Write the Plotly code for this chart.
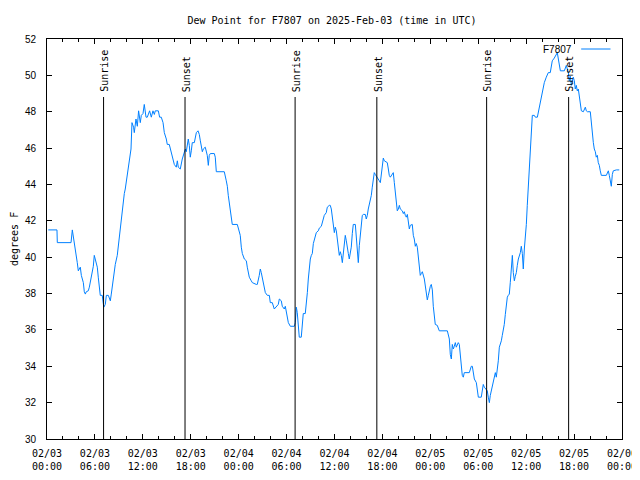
import pandas as pd
import plotly.graph_objects as go

# ---- data ----
start = pd.Timestamp("2025-02-03 00:00")
end = pd.Timestamp("2025-02-06 00:00")

# elapsed hours since 2025-02-03 00:00 UTC
hours = [
    0.16, 1.25, 1.29, 3.01, 3.17, 3.29, 3.54, 3.79, 3.92, 4.17, 4.30, 4.55, 4.67, 4.80, 4.92,
    5.17, 5.30, 5.55, 5.80, 5.92, 6.05, 6.30, 6.42, 6.55, 6.67, 6.92, 7.05, 7.11, 7.30, 7.43,
    7.68, 7.93, 8.05, 8.18, 8.30, 8.55, 8.80, 8.93, 9.18, 9.43, 9.68, 9.80, 10.02, 10.34, 10.52,
    10.64, 10.84, 10.93, 11.14, 11.31, 11.47, 11.68, 11.81, 12.02, 12.18, 12.40, 12.56, 12.85,
    13.06, 13.27, 13.44, 13.56, 13.94, 14.10, 14.31, 14.53, 14.69, 14.94, 15.06, 15.31, 15.44,
    15.69, 15.82, 15.94, 16.19, 16.32, 16.44, 16.69, 16.94, 17.19, 17.32, 17.44, 17.57, 17.69,
    17.82, 17.94, 18.07, 18.19, 18.45, 18.57, 18.70, 18.91, 19.07, 19.20, 19.45, 19.57, 19.82,
    20.07, 20.20, 20.32, 20.45, 20.95, 21.07, 21.20, 22.20, 22.45, 22.58, 22.70, 22.83, 22.95,
    23.08, 23.20, 23.83, 23.95, 24.20, 24.33, 24.46, 24.71, 24.96, 25.08, 25.33, 25.58, 25.71,
    26.21, 26.33, 26.58, 26.71, 26.83, 26.96, 27.09, 27.34, 27.59, 27.84, 27.96, 28.21, 28.46,
    28.71, 28.96, 29.09, 29.34, 29.46, 29.71, 29.84, 29.97, 30.09, 30.22, 30.47, 30.97, 31.09,
    31.22, 31.34, 31.47, 31.59, 31.84, 31.97, 32.09, 32.34, 32.47, 32.60, 32.72, 32.85, 32.97,
    33.10, 33.22, 33.35, 33.47, 33.60, 33.72, 33.97, 34.10, 34.35, 34.47, 34.60, 34.72, 34.97,
    35.10, 35.35, 35.47, 35.60, 35.73, 35.85, 35.98, 36.10, 36.23, 36.35, 36.48, 36.60, 36.73,
    36.85, 36.98, 37.23, 37.35, 37.48, 37.60, 37.73, 37.85, 38.10, 38.23, 38.35, 38.61, 38.73,
    38.86, 38.98, 39.11, 39.23, 39.36, 39.48, 39.61, 39.86, 39.98, 40.11, 40.23, 40.36, 40.48,
    40.61, 40.73, 40.86, 40.98, 41.11, 41.36, 41.61, 41.74, 41.86, 41.99, 42.11, 42.24, 42.61,
    42.74, 42.86, 42.99, 43.11, 43.36, 43.49, 43.61, 43.74, 43.86, 43.99, 44.12, 44.24, 44.49,
    44.62, 44.74, 44.87, 44.99, 45.12, 45.24, 45.37, 45.49, 45.74, 45.87, 45.99, 46.12, 46.24,
    46.37, 46.49, 46.62, 46.74, 46.87, 47.00, 47.25, 47.37, 47.50, 47.62, 47.75, 47.87, 48.00,
    48.12, 48.25, 48.37, 48.50, 48.62, 48.87, 49.00, 49.12, 50.13, 50.25, 50.38, 50.50, 50.63,
    50.75, 50.88, 51.00, 51.13, 51.25, 51.38, 51.50, 51.63, 51.75, 51.88, 52.00, 52.13, 52.25,
    52.88, 53.01, 53.13, 53.26, 53.38, 53.51, 53.76, 53.88, 54.01, 54.38, 54.51, 54.63, 54.76,
    55.01, 55.13, 55.26, 55.39, 55.51, 55.64, 55.76, 55.89, 56.01, 56.14, 56.26, 56.39, 56.51,
    56.64, 56.76, 56.89, 57.01, 57.14, 57.26, 57.39, 57.51, 57.64, 57.76, 57.89, 58.01, 58.14,
    58.27, 58.39, 58.52, 58.64, 58.77, 58.89, 59.02, 59.27, 59.39, 59.52, 59.64, 59.77, 59.89,
    60.02, 60.14, 60.27, 60.39, 60.52, 60.64, 60.77, 61.02, 61.15, 61.40, 61.52, 61.65, 61.77,
    62.02, 62.15, 62.27, 62.52, 62.77, 63.02, 63.15, 63.27, 63.52, 63.77, 63.90, 64.03, 64.15,
    64.28, 64.78, 64.90, 65.03, 65.15, 65.28, 65.40, 65.53, 65.65, 65.78, 65.90, 66.03, 66.15,
    66.28, 66.40, 66.53, 66.65, 66.78, 66.91, 67.16, 67.28, 67.41, 67.53, 67.66, 68.03, 68.16,
    68.28, 68.41, 68.53, 68.66, 68.78, 68.91, 69.03, 69.16, 69.28, 69.41, 70.04, 70.16, 70.29,
    70.41, 70.54, 70.66, 70.79, 70.91, 71.29, 71.66,
]

# dew point, degrees F
dewpoint = [
    41.5, 41.5, 40.8, 40.8, 41.5, 41.2, 40.35, 39.7, 39.25, 39.45, 39.0, 38.6, 38.1, 37.97, 38.1,
    38.15, 38.35, 38.9, 39.5, 40.1, 39.9, 39.45, 38.9, 38.25, 37.9, 37.9, 37.4, 37.25, 37.4, 37.9,
    37.9, 37.6, 37.97, 38.4, 38.95, 39.6, 40.1, 40.6, 41.5, 42.75, 43.5, 43.75, 44.5, 45.3, 45.95,
    47.4, 47.15, 46.85, 47.6, 47.2, 48.05, 47.4, 47.8, 47.9, 48.4, 47.7, 47.7, 48.05,
    47.7, 48.05, 47.85, 48.05, 48.05, 47.7, 47.7, 47.4, 46.85, 46.5, 46.2, 46.2, 45.95,
    45.6, 45.4, 45.1, 44.95, 45.3, 44.95, 44.85, 45.4, 45.85, 45.95, 45.8, 46.2, 46.5,
    46.15, 45.5, 45.85, 46.3, 46.3, 46.6, 46.85, 46.95, 46.75, 46.4, 45.8, 45.95, 46.05,
    45.6, 45.05, 45.6, 45.7, 45.7, 45.5, 44.7, 44.7, 44.2, 43.9, 43.4, 43.0, 42.55,
    42.1, 41.8, 41.8, 41.55, 41.2, 40.55, 40.2, 39.9, 39.8, 39.45, 38.9, 38.7, 38.6,
    38.5, 38.5, 39.0, 39.35, 39.15, 38.9, 38.5, 38.05, 37.9, 37.9, 37.5, 37.5, 37.15,
    37.25, 37.4, 37.7, 37.6, 37.3, 37.15, 37.3, 37.05, 36.8, 36.4, 36.2, 36.2, 36.4,
    37.25, 36.95, 35.95, 35.6, 35.6, 36.3, 36.9, 36.9, 37.4, 38.05, 38.8, 39.45, 39.9,
    40.1, 40.2, 40.75, 41.0, 41.2, 41.35, 41.45, 41.6, 41.7, 41.9, 42.15, 42.3, 42.45,
    42.75, 42.85, 42.85, 42.65, 42.2, 41.65, 41.35, 41.65, 41.45, 41.0, 40.45, 40.1, 40.3,
    40.1, 39.7, 40.75, 41.2, 40.9, 40.65, 40.2, 39.9, 40.55, 41.3, 41.8, 41.8, 41.0,
    40.2, 39.7, 40.65, 41.2, 41.75, 42.3, 42.35, 42.35, 42.1, 42.3, 42.65, 42.9, 43.3,
    43.4, 43.85, 44.3, 44.65, 44.55, 44.4, 44.2, 44.1, 44.55, 45.05, 45.45, 45.3, 45.2,
    44.85, 44.5, 44.4, 44.5, 44.65, 44.1, 43.55, 43.0, 42.55, 42.65, 42.85, 42.65, 42.55,
    42.4, 42.5, 42.3, 42.2, 42.35, 42.0, 41.55, 41.75, 41.8, 41.2, 41.0, 40.6, 40.75,
    40.55, 40.0, 39.5, 39.0, 39.1, 39.2, 38.8, 38.3, 37.95, 37.65, 37.9, 38.25, 38.4,
    38.5, 38.2, 37.3, 36.7, 36.3, 36.25, 36.05, 35.95, 35.95, 35.75, 35.5, 34.65, 34.4,
    35.2, 34.95, 35.1, 35.3, 35.05, 35.2, 35.3, 35.2, 34.75, 34.1, 33.5, 33.4, 33.65,
    33.65, 33.9, 34.0, 34.0, 33.6, 33.3, 33.1, 32.55, 32.3, 32.3, 32.65, 33.0, 32.85,
    32.75, 32.65, 32.3, 32.0, 32.4, 32.65, 32.95, 33.1, 33.5, 33.65, 33.4, 33.85, 34.3,
    35.05, 35.2, 35.4, 35.7, 35.95, 36.3, 36.85, 37.4, 37.8, 37.9, 37.97, 38.6, 39.35,
    40.1, 39.15, 38.7, 38.95, 39.15, 39.55, 39.9, 40.25, 40.6, 40.2, 39.35, 40.45, 41.0,
    41.8, 42.85, 43.9, 45.1, 46.15, 47.2, 47.8, 47.8, 47.7, 47.7, 47.95, 48.25, 48.6,
    48.95, 49.35, 49.6, 49.9, 50.15, 50.15, 50.55, 50.8, 50.95, 51.2, 51.25, 50.9, 50.6,
    50.25, 50.25, 50.45, 50.55, 50.35, 50.15, 49.7, 49.95, 49.45, 49.7, 49.9, 49.7, 49.25,
    49.45, 49.15, 49.25, 48.8, 48.35, 48.05, 48.0, 48.15, 48.25, 48.05, 48.0, 48.0, 47.3,
    46.7, 46.3, 45.95, 45.8, 45.5, 45.6, 45.2, 45.05, 44.75, 44.5, 44.5, 44.65, 44.75,
    44.5, 44.1, 43.9, 44.55, 44.75, 44.8, 44.8,
]

sunrise_times = ["2025-02-03 07:05", "2025-02-04 07:04", "2025-02-05 07:03"]
sunset_times = ["2025-02-03 17:17", "2025-02-04 17:18", "2025-02-05 17:19"]

station = "F7807"
title_text = "Dew Point for F7807 on 2025-Feb-03 (time in UTC)"
y_label = "degrees F"

# ---- figure ----
# The page body has an 8px default margin, so the figure is sized/placed to
# compensate and land where the reference draws it in the 640x480 window.
FIG_W, FIG_H = 632, 464
times = start + pd.to_timedelta(hours, unit="h")
LINE_COLOR = "#0080ff"
MONO = "DejaVu Sans Mono, monospace"
SANS = "Liberation Sans, Arial, sans-serif"

fig = go.Figure()
fig.add_trace(go.Scatter(x=times, y=dewpoint, mode="lines", name=station,
                         line=dict(color=LINE_COLOR, width=1), showlegend=False))

events = [(t, "Sunrise") for t in sunrise_times] + [(t, "Sunset") for t in sunset_times]
shapes = []
annotations = []
for t, label in events:
    shapes.append(dict(type="line", xref="x", yref="paper", x0=t, x1=t, y0=0, y1=0.855,
                       line=dict(color="black", width=1)))
    annotations.append(dict(x=t, xref="x", y=0.862, yref="paper", text=label, showarrow=False,
                            textangle=-90, xanchor="center", yanchor="bottom", xshift=1,
                            font=dict(family=MONO, size=10, color="black")))

# legend (gnuplot style: text then line sample)
annotations.append(dict(x=0.917, xref="paper", y=0.975, yref="paper", text=station,
                        showarrow=False, xanchor="right", yanchor="middle",
                        font=dict(family=SANS, size=10, color="black")))
shapes.append(dict(type="line", xref="paper", yref="paper", x0=0.929, x1=0.980,
                   y0=0.975, y1=0.975, line=dict(color=LINE_COLOR, width=1)))

# y-axis label
annotations.append(dict(x=0, xref="paper", y=0.5, yref="paper", text=y_label, showarrow=False,
                        textangle=-90, xanchor="center", yanchor="middle", xshift=-33,
                        font=dict(family=MONO, size=10, color="black")))

fig.update_layout(
    width=FIG_W, height=FIG_H,
    margin=dict(l=39, r=18, t=31, b=33, autoexpand=False),
    paper_bgcolor="white", plot_bgcolor="white",
    title=dict(text=title_text, x=324 / FIG_W, xanchor="center", y=1 - 12 / FIG_H,
               yanchor="middle", font=dict(family=MONO, size=10, color="black"),
               automargin=False),
    shapes=shapes, annotations=annotations, showlegend=False,
)
fig.update_xaxes(
    range=[start, end], type="date", tick0=start, dtick=6 * 3600 * 1000,
    tickformat="%m/%d<br>%H:%M", ticks="inside", ticklen=5, tickcolor="black",
    showline=True, linecolor="black", linewidth=1, mirror="ticks", showgrid=False,
    zeroline=False, tickfont=dict(family=MONO, size=10, color="black"),
    ticklabelstandoff=5, automargin=False,
    minor=dict(dtick=2 * 3600 * 1000, ticks="inside", ticklen=3, tickcolor="black", showgrid=False),
)
fig.update_yaxes(
    range=[30, 52], dtick=2, tick0=30, ticks="inside", ticklen=5, tickcolor="black",
    showline=True, linecolor="black", linewidth=1, mirror="ticks", showgrid=False,
    zeroline=False, tickfont=dict(family=SANS, size=10, color="black"), ticklabelstandoff=8,
    automargin=False,
)

fig.write_html("out.html")
